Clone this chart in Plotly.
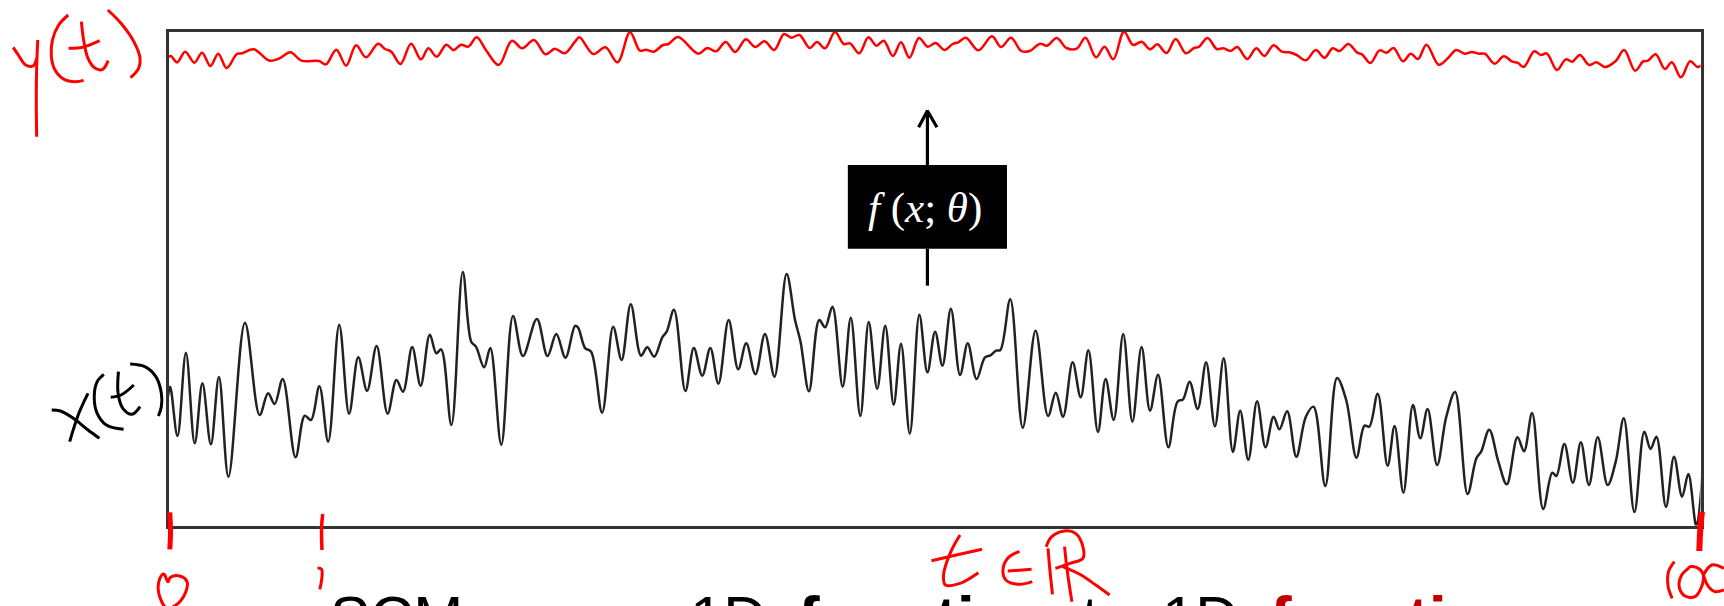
import plotly.graph_objects as go

W, H = 1724, 606
FRAME_L, FRAME_R, FRAME_T, FRAME_B = 168.5, 1700.5, 31.5, 525.5
SX = 575 / 1568  # read-off scale of horizontal picture readings
SY = 1 / 3       # read-off scale of vertical picture readings

# x(t), black curve, read in three panels (horizontal reading, vertical reading)
xt_a_t = [458,464,484,507,531,552,575,597,623,668,708,731,749,771,806,831,848,871,895,925,952,977,1001,1027,1057,1081,1099,1124,1147,1172,1190,1203,1231,1262,1285,1298,1320,1337,1367,1399,1426,1464,1493,1517,1542]
xt_a_v = [440,410,558,308,580,400,583,381,680,218,495,430,462,387,622,497,510,409,575,224,491,322,422,288,491,390,425,291,407,254,310,298,525,66,275,290,352,294,584,198,318,207,318,252,323]
xt_b_t = [0,8,28,44,74,104,127,152,180,197,216,238,250,270,301,324,347,369,391,419,445,467,492,518,544,577,600,615,638,666,682,702,730,752,778,801,824,846,869,889,913,939,961,982,1002,1025,1050,1071,1095,1118,1133,1148,1160,1187,1221,1256,1290,1311,1331,1357,1379,1400,1426,1447,1469,1495,1520,1545]
xt_b_v = [228,232,295,305,488,230,330,163,317,292,320,262,245,179,423,294,377,294,401,210,358,280,373,252,380,72,210,275,424,210,232,170,410,203,498,216,417,227,464,281,551,194,367,245,347,176,375,280,387,322,316,302,300,148,533,242,498,428,500,337,442,301,546,387,510,252,515,291]
xt_c_t = [0,22,50,75,90,108,130,153,177,201,226,246,268,292,315,337,353,374,399,425,446,478,510,535,563,585,598,621,648,667,691,717,737,757,783,808,832,866,890,903,925,950,973,1002,1020,1042,1072,1097,1108,1130,1153,1175,1197,1221,1248,1270,1292,1321,1348,1365,1381,1407,1429,1451,1468,1490,1507]
xt_c_v = [482,374,592,455,448,395,477,337,529,325,606,482,629,454,592,500,538,484,620,500,470,708,384,450,623,527,530,431,647,528,728,465,565,477,645,500,426,732,625,605,539,635,703,562,604,489,777,668,678,582,698,577,705,562,705,635,505,786,545,597,560,771,620,740,672,830,660]

# y(t), red curve
yt_a_t = [458,466,483,505,530,551,574,595,618,646,660,692,735,762,792,822,870,889,917,944,971,998,1031,1050,1067,1092,1121,1148,1168,1191,1217,1237,1257,1277,1300,1325,1360,1396,1424,1456,1488,1513,1540]
yt_a_v = [172,168,187,155,188,158,198,161,204,162,160,148,182,175,157,182,183,193,149,197,136,172,131,147,155,192,131,178,145,170,134,150,134,140,112,150,195,122,145,120,163,146,160]
yt_b_t = [0,12,50,83,116,150,177,193,215,240,255,281,336,361,385,411,437,466,491,517,543,570,590,612,640,660,682,709,733,750,775,800,822,842,867,889,912,938,962,983,1008,1030,1045,1066,1100,1137,1162,1189,1217,1240,1268,1287,1314,1340,1368,1392,1421,1444,1468,1497,1522,1545]
yt_b_v = [125,112,162,142,187,97,152,149,155,135,132,111,161,144,154,126,156,118,141,124,150,102,113,105,144,126,145,96,132,130,160,112,137,122,168,127,173,114,140,129,150,132,127,113,151,109,141,113,153,153,131,137,114,144,146,113,172,140,178,95,135,125]
yt_c_t = [0,20,45,70,98,120,133,157,182,200,220,238,265,290,312,337,360,380,400,425,452,476,498,517,541,565,578,601,626,645,664,690,711,731,754,787,812,835,858,878,897,913,940,965,988,1002,1019,1048,1066,1082,1110,1134,1152,1172,1198,1217,1241,1270,1293,1323,1345,1358,1379,1404,1423,1448,1473,1493,1504]
yt_c_v = [148,133,159,117,160,144,141,114,147,145,153,141,177,145,168,136,155,157,165,181,150,173,145,153,132,158,163,189,151,158,144,184,161,177,134,194,175,150,161,156,161,161,191,169,185,188,201,154,165,160,210,178,185,165,195,187,201,183,150,212,184,182,163,207,187,232,184,201,196]

# Handwritten red and black ink: (panel x origin, panel y origin, horizontal, vertical, width)
ink_red = [
    (0, 0, [36,50,70,90,100], [142,165,195,198,175], 3),
    (0, 0, [103,100,99,100], [120,200,300,410], 3),
    (0, 0, [186,160,143,140,150,175,205,228], [45,75,120,170,210,238,245,241], 3),
    (0, 0, [222,228,240,260,280,295], [65,120,175,205,208,182], 3),
    (0, 0, [187,225,272], [145,142,122], 3),
    (0, 0, [294,330,365,382,378,356], [30,70,125,175,205,233], 3),
    (0, 250, [463,465,463], [787,850,898], 5),
    (0, 250, [880,877,878], [792,830,900], 3.5),
    (0, 250, [866,877,877,872], [954,958,990,1018], 3),
    (0, 250, [458,447,436,433,455,480,505,510,490,465,458], [995,972,985,1030,1075,1065,1030,995,978,982,995], 3),
    (575, 250, [1050,1025,1005,1010,1050,1100], [855,905,975,1005,1000,968], 3),
    (575, 250, [972,1040,1110], [932,915,898], 3),
    (575, 250, [1212,1180,1167,1175,1210,1247], [904,925,960,990,1003,995], 3),
    (575, 250, [1180,1245], [963,958], 3),
    (575, 250, [1290,1295,1302], [895,960,1033], 3),
    (575, 250, [1335,1342,1355], [890,960,1055], 3),
    (575, 250, [1285,1300,1335,1365,1385,1385,1350,1310], [890,860,843,850,890,925,940,955], 3),
    (575, 250, [1330,1380,1420,1458], [950,975,1005,1035], 3),
    (1150, 250, [1505,1500,1498], [785,850,903], 6),
    (1150, 250, [1430,1414,1413,1424], [935,965,1010,1045], 3),
    (1150, 250, [1473,1468,1450,1443,1459,1486,1504,1509,1495,1473], [950,955,975,1010,1038,1040,1010,975,955,950], 3),
    (1150, 250, [1509,1532,1565], [975,945,955], 3),
    (1150, 250, [1509,1523,1541,1565], [975,1010,1025,1020], 3),
]
ink_black = [
    (0, 250, [141,165,200,240,271], [480,483,505,540,565], 3),
    (0, 250, [240,215,190], [430,490,575], 3),
    (0, 250, [283,265,257,265,290,337], [373,395,440,490,525,538], 3),
    (0, 250, [323,322,335,360,382], [365,430,475,493,470], 3),
    (0, 250, [302,330,365], [442,435,405], 3),
    (0, 250, [355,395,425,440,440,432], [342,350,380,430,470,498], 3),
]

# Arrow and block, panel readings
arrow_t = [961, 961]
arrow_low_v = [857, 746]
arrow_up_v = [495, 332]
head_t = [937, 961, 987]
head_v = [382, 332, 382]
block_t = [744, 1178]
block_v = [495, 746]

block_label = "<i>f</i> (<i>x</i>; <i>θ</i>)"
caption = [
    ("SCM", 328, "#000000", False),
    ("1D", 688, "#000000", False),
    ("function", 796, "#000000", True),
    ("to", 1080, "#000000", False),
    ("1D", 1160, "#000000", False),
    ("function", 1268, "#c00000", True),
]


def panel_x(origin, vals):
    return [origin + v * SX for v in vals]


def panel_y(origin, vals):
    return [origin + v * SY for v in vals]


def to_t(px):
    return [(p - FRAME_L) / (FRAME_R - FRAME_L) * 100 for p in px]


def to_v(py):
    return [FRAME_B - p for p in py]


x_t = to_t(panel_x(0, xt_a_t) + panel_x(575, xt_b_t) + panel_x(1150, xt_c_t))
x_v = to_v(panel_y(250, xt_a_v + xt_b_v + xt_c_v))
y_t = to_t(panel_x(0, yt_a_t) + panel_x(575, yt_b_t) + panel_x(1150, yt_c_t))
y_v = to_v(panel_y(0, yt_a_v + yt_b_v + yt_c_v))

fig = go.Figure()
fig.add_trace(go.Scatter(x=x_t, y=x_v, mode="lines", xaxis="x", yaxis="y", cliponaxis=False,
                         line=dict(color="#222222", width=2.5, shape="spline", smoothing=1.0)))
fig.add_trace(go.Scatter(x=y_t, y=y_v, mode="lines", xaxis="x", yaxis="y", cliponaxis=False,
                         line=dict(color="#ff0000", width=2.5, shape="spline", smoothing=1.0)))

for group, colour in ((ink_black, "#000000"), (ink_red, "#ff0000")):
    for ox, oy, hs, vs, w in group:
        fig.add_trace(go.Scatter(x=panel_x(ox, hs), y=panel_y(oy, vs), mode="lines",
                                 xaxis="x2", yaxis="y2",
                                 line=dict(color=colour, width=w, shape="spline", smoothing=1.0)))

for vs_t, vs in ((arrow_t, arrow_low_v), (arrow_t, arrow_up_v), (head_t, head_v)):
    fig.add_trace(go.Scatter(x=panel_x(575, vs_t), y=panel_y(0, vs), mode="lines",
                             xaxis="x2", yaxis="y2", line=dict(color="#000000", width=3.2)))

bx = panel_x(575, block_t)
by = panel_y(0, block_v)
fig.add_shape(type="rect", xref="x2", yref="y2", x0=bx[0], x1=bx[1], y0=by[0], y1=by[1],
              fillcolor="#000000", line=dict(width=0))

annotations = [dict(text=block_label, xref="x2", yref="y2", x=(bx[0] + bx[1]) / 2 - 2,
                    y=(by[0] + by[1]) / 2 + 1, showarrow=False,
                    font=dict(family="Liberation Serif", size=43, color="#ffffff"))]
for label, left, colour, bold in caption:
    annotations.append(dict(text=f"<b>{label}</b>" if bold else label, xref="x2", yref="y2",
                            x=left, y=581 if bold else 582, xanchor="left", yanchor="top", showarrow=False,
                            font=dict(family="Liberation Sans", size=65 if bold else 60, color=colour)))

axis_main = dict(showgrid=False, zeroline=False, showticklabels=False, ticks="",
                 showline=True, mirror=True, linecolor="#333333", linewidth=3)
axis_ink = dict(showgrid=False, zeroline=False, showticklabels=False, ticks="", visible=False)

fig.update_layout(
    width=W, height=H, margin=dict(l=0, r=0, t=0, b=0), showlegend=False,
    paper_bgcolor="#ffffff", plot_bgcolor="rgba(0,0,0,0)",
    xaxis=dict(axis_main, domain=[FRAME_L / W, FRAME_R / W], range=[0, 100], anchor="y"),
    yaxis=dict(axis_main, domain=[(H - FRAME_B) / H, (H - FRAME_T) / H],
               range=[0, FRAME_B - FRAME_T], anchor="x"),
    xaxis2=dict(axis_ink, domain=[0, 1], range=[0, W], anchor="y2"),
    yaxis2=dict(axis_ink, domain=[0, 1], range=[H, 0], anchor="x2"),
    annotations=annotations,
)

fig.write_html("out.html", config={"displayModeBar": False},
               post_script="document.body.style.margin='0';document.body.style.overflow='hidden';")
